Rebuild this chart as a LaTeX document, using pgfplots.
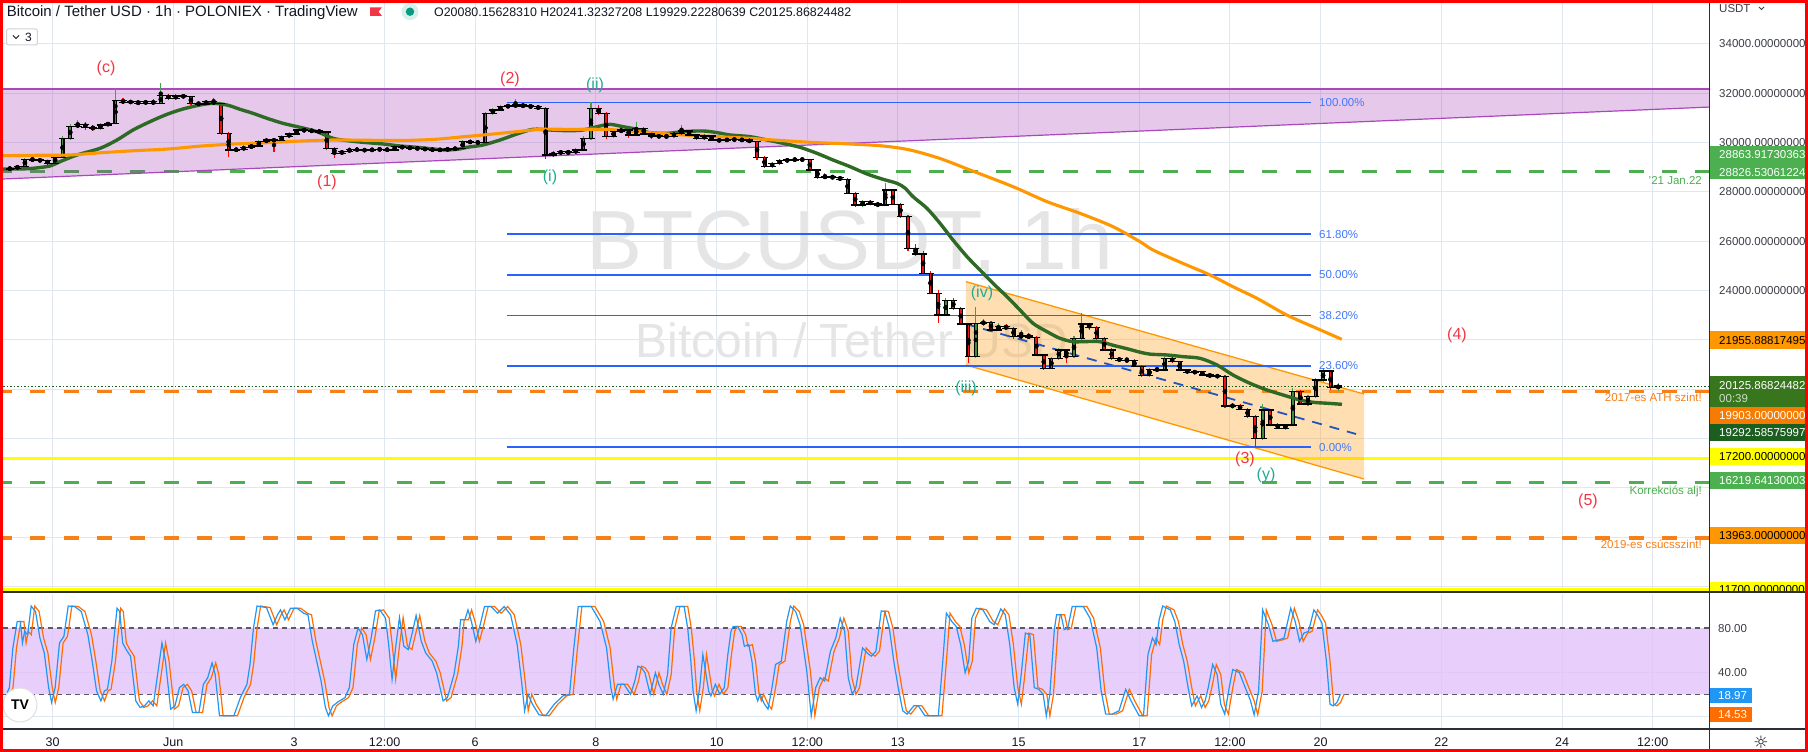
\documentclass[border=0pt]{standalone}
\usepackage{fontspec}
\setmainfont{Liberation Sans}
\newfontfamily\djv{DejaVu Sans}
\usepackage{pgfplots}
\usepackage{pgfplotstable}
\pgfplotsset{compat=1.18}

\definecolor{gridc}{RGB}{224,231,240}
\definecolor{bandfill}{RGB}{156,39,176}
\definecolor{bandline}{RGB}{171,71,188}
\definecolor{chanor}{RGB}{255,152,0}
\definecolor{fibblue}{RGB}{41,98,255}
\definecolor{fibtext}{RGB}{66,122,250}
\definecolor{midblue}{RGB}{33,84,190}
\definecolor{maG}{RGB}{46,105,38}
\definecolor{maO}{RGB}{255,152,0}
\definecolor{lvlgreen}{RGB}{76,175,80}
\definecolor{lvlorange}{RGB}{247,128,24}
\definecolor{ylw}{RGB}{255,255,0}
\definecolor{wred}{RGB}{242,54,69}
\definecolor{wteal}{RGB}{34,171,148}
\definecolor{curdot}{RGB}{27,94,32}
\definecolor{txt}{RGB}{19,23,34}
\definecolor{axtxt}{RGB}{60,62,72}
\definecolor{sepc}{RGB}{42,46,57}
\definecolor{upw}{RGB}{67,160,71}
\definecolor{dnw}{RGB}{255,0,0}
\definecolor{upb}{RGB}{56,142,60}
\definecolor{dnb}{RGB}{240,20,20}
\definecolor{kblue}{RGB}{33,150,243}
\definecolor{dorange}{RGB}{255,109,0}
\definecolor{oscband}{RGB}{225,192,250}
\definecolor{oscdash}{RGB}{90,90,100}
\definecolor{boxgreen}{RGB}{76,175,80}
\definecolor{boxdk}{RGB}{56,118,29}
\definecolor{boxdk2}{RGB}{27,94,32}
\definecolor{boxor}{RGB}{255,152,0}
\definecolor{boxor2}{RGB}{245,124,0}
\definecolor{tealring}{RGB}{214,240,235}
\definecolor{tealdot}{RGB}{8,153,129}

\newcommand{\fs}[1]{\fontsize{#1}{#1}\selectfont}

\pgfplotstableread{
t o h l c
-2.750 28900 28990 28860 28926
-2.625 28926 29010 28880 28953
-2.500 28953 29080 28920 29020
-2.375 29020 29380 28990 29317
-2.250 29317 29400 29230 29290
-2.125 29290 29350 29200 29263
-2.000 29263 29300 29100 29155
-1.875 29155 29480 29120 29398
-1.750 29398 30250 29360 30168
-1.625 30168 30750 30100 30641
-1.500 30641 30900 30580 30736
-1.375 30736 30850 30520 30614
-1.250 30614 30700 30450 30574
-1.125 30574 30780 30500 30709
-1.000 30709 30850 30650 30776
-0.875 30776 32195 30740 31695
-0.750 31695 31800 31550 31628
-0.625 31628 31720 31560 31655
-0.500 31655 31700 31500 31587
-0.375 31587 31720 31540 31655
-0.250 31655 31750 31500 31587
-0.125 31587 32400 31560 31900
0.000 31900 31980 31720 31790
0.125 31790 31950 31740 31884
0.250 31884 31950 31800 31857
0.375 31857 31900 31520 31587
0.500 31587 31650 31480 31560
0.625 31560 31720 31520 31655
0.750 31655 31800 31540 31587
0.875 31587 31620 30300 30371
1.000 30371 30420 29398 29696
1.125 29696 29800 29600 29723
1.250 29723 29880 29650 29804
1.375 29804 29950 29740 29858
1.500 29858 30100 29800 30033
1.625 30033 30180 29980 30101
1.750 30101 30160 29630 30080
1.875 30080 30300 30020 30236
2.000 30236 30420 30180 30344
2.125 30344 30560 30300 30506
2.250 30506 30600 30420 30479
2.375 30479 30540 30400 30466
2.500 30466 30520 30360 30425
2.625 30425 30470 29700 29763
2.750 29763 29800 29358 29560
2.875 29560 29700 29500 29628
3.000 29628 29800 29580 29723
3.125 29723 29780 29640 29696
3.250 29696 29760 29620 29680
3.375 29680 29780 29640 29710
3.500 29710 29790 29660 29723
3.625 29723 29770 29630 29696
3.750 29696 29900 29660 29831
3.875 29831 29880 29740 29790
4.000 29790 29840 29720 29770
4.125 29770 29820 29700 29750
4.250 29750 29800 29660 29723
4.375 29723 29760 29640 29696
4.500 29696 29760 29650 29700
4.625 29700 29790 29660 29736
4.750 29736 29820 29690 29750
4.875 29750 30100 29720 30033
5.000 30033 30090 29950 30010
5.125 30010 30060 29940 29993
5.250 29993 31250 29960 31182
5.375 31182 31400 31120 31317
5.500 31317 31500 31260 31452
5.625 31452 31560 31400 31479
5.750 31479 31750 31420 31519
5.875 31519 31580 31380 31479
6.000 31479 31540 31360 31452
6.125 31452 31500 31330 31384
6.250 31384 31420 29350 29493
6.375 29493 29640 29430 29560
6.500 29560 29700 29500 29628
6.625 29628 29680 29480 29587
6.750 29587 29760 29540 29696
6.875 29696 30250 29650 30168
7.000 30168 31650 30120 31384
7.125 31384 31500 31100 31182
7.250 31182 31250 30150 30236
7.375 30236 30520 30180 30439
7.500 30439 30600 30380 30506
7.625 30506 30560 30200 30304
7.750 30304 30844 30250 30574
7.875 30574 30620 30300 30344
8.000 30344 30400 30150 30263
8.125 30263 30320 30180 30236
8.250 30236 30320 30180 30250
8.375 30250 30430 30200 30371
8.500 30371 30709 30320 30466
8.625 30466 30520 30260 30304
8.750 30304 30350 30110 30168
8.875 30168 30330 30120 30263
9.000 30263 30300 30050 30101
9.125 30101 30160 30010 30074
9.250 30074 30200 30020 30128
9.375 30128 30180 30060 30110
9.500 30110 30160 30040 30101
9.625 30101 30140 29980 30033
9.750 30033 30080 29300 29398
9.875 29398 29450 28950 29020
10.000 29020 29200 28980 29155
10.125 29155 29330 29100 29263
10.250 29263 29350 29200 29290
10.375 29290 29380 29240 29317
10.500 29317 29360 29250 29300
10.625 29300 29340 28850 28885
10.750 28885 28920 28500 28588
10.875 28588 28750 28520 28615
11.000 28615 28660 28500 28588
11.125 28588 28640 28420 28507
11.250 28507 28550 27900 27939
11.375 27939 28000 27400 27466
11.500 27466 27680 27400 27602
11.625 27602 27650 27450 27507
11.750 27507 27560 27400 27466
11.875 27466 28345 27420 28074
12.000 28074 28120 27450 27500
12.125 27500 27560 26950 27000
12.250 27000 27050 25600 25700
12.375 25700 25900 25400 25479
12.500 25479 25600 24650 24696
12.625 24696 24800 23850 23885
12.750 23885 24000 22700 23007
12.875 23007 23700 22950 23588
13.000 23588 23700 23200 23277
13.125 23277 23350 22600 22642
13.250 22642 22700 21048 21318
13.375 21318 23345 21250 22669
13.500 22669 22850 22550 22700
13.625 22700 22780 22350 22399
13.750 22399 22700 22340 22534
13.875 22534 22650 22400 22467
14.000 22467 22520 22050 22129
14.125 22129 22400 22080 22150
14.250 22150 22280 22050 22100
14.375 22100 22150 21350 21386
14.500 21386 21420 20780 20846
14.625 20846 21300 20800 21251
14.750 21251 21650 21200 21588
14.875 21588 21620 21048 21318
15.000 21318 22150 21280 22061
15.125 22061 23075 22000 22642
15.250 22642 22700 22400 22507
15.375 22507 22560 22000 22061
15.500 22061 22100 21550 21588
15.625 21588 21650 21200 21251
15.750 21251 21300 21100 21156
15.875 21156 21300 21100 21170
16.000 21170 21220 20880 20913
16.125 20913 20960 20500 20560
16.250 20560 20850 20500 20805
16.375 20805 20900 20720 20778
16.500 20778 21300 20740 21251
16.625 21251 21300 21080 21116
16.750 21116 21160 20740 20778
16.875 20778 20820 20620 20670
17.000 20670 20760 20630 20710
17.125 20710 20750 20540 20575
17.250 20575 20620 20500 20535
17.375 20535 20580 20480 20520
17.500 20520 20560 19250 19319
17.625 19319 19450 19200 19340
17.750 19340 19400 19150 19184
17.875 19184 19230 18850 18887
18.000 18887 18950 17650 18009
18.125 18009 19400 17950 19157
18.250 19157 19200 18500 18549
18.375 18549 18620 18380 18414
18.500 18414 18600 18350 18549
18.625 18549 20050 18500 19900
18.750 19900 19950 19350 19400
18.875 19400 19750 19300 19697
19.000 19697 20450 19650 20373
19.125 20373 20845 20300 20737
19.250 20737 20780 19950 20076
19.375 20076 20241 19929 20125.87
}\candles

\pgfplotstableread{
t p
-2.787 28926
-2.456 28926
-2.241 28953
-1.959 29047
-1.794 29223
-1.512 29493
-1.131 29763
-0.850 30101
-0.585 30506
-0.303 30844
-0.022 31141
0.243 31357
0.525 31519
0.740 31587
0.972 31519
1.188 31344
1.403 31182
1.635 30979
1.900 30776
2.181 30614
2.463 30439
2.728 30168
3.009 30060
3.291 29993
3.556 29939
3.837 29858
4.119 29804
4.384 29736
4.615 29696
4.831 29740
4.947 29804
5.212 29898
5.494 30101
5.775 30344
6.040 30533
6.322 30506
6.604 30479
6.869 30506
7.150 30668
7.316 30736
7.531 30640
7.763 30533
7.978 30398
8.260 30370
8.525 30439
8.856 30466
9.088 30400
9.303 30304
9.634 30236
9.916 30101
10.181 29966
10.462 29804
10.744 29560
11.009 29290
11.291 29020
11.572 28723
11.837 28507
12.069 28345
12.201 28150
12.334 27803
12.565 27330
12.781 26722
12.996 26047
13.228 25371
13.443 24831
13.658 24291
13.890 23750
14.105 23210
14.321 22669
14.553 22332
14.768 22061
14.983 21926
15.215 21930
15.431 21926
15.646 21780
15.878 21640
16.093 21500
16.259 21420
16.540 21386
16.805 21318
17.087 21251
17.368 20981
17.633 20575
17.915 20238
18.196 19967
18.462 19765
18.743 19562
18.958 19468
19.190 19430
19.438 19387
}\maGreen

\pgfplotstableread{
t p
-2.754 29466
-2.208 29480
-1.645 29493
-1.098 29587
-0.551 29668
0.000 29736
0.558 29858
1.105 29939
1.651 29993
2.215 30060
2.761 30101
3.308 30090
3.871 30080
4.418 30128
4.831 30220
5.212 30304
5.775 30439
6.156 30533
6.604 30533
7.150 30533
7.432 30506
7.978 30398
8.525 30304
9.088 30236
9.634 30168
10.181 30074
10.744 29993
11.291 29939
11.837 29858
12.284 29696
12.781 29350
13.278 28884
13.990 28209
14.553 27601
15.099 27128
15.646 26587
16.093 25979
16.308 25642
16.755 25150
17.254 24628
17.635 24150
18.030 23683
18.523 23007
19.019 22467
19.434 22022
}\maOrange

\pgfplotstableread{
t k
-2.751 21.5
-2.715 26
-2.657 62
-2.585 86
-2.534 86
-2.498 66.5
-2.462 77
-2.412 74
-2.354 100
-2.282 95
-2.209 71
-2.137 57.5
-2.065 26
-2.015 12.5
-1.957 26
-1.885 66.5
-1.812 72.5
-1.740 100
-1.632 99.5
-1.524 95
-1.415 74
-1.343 50
-1.271 23
-1.199 14
-1.141 23
-1.091 24.5
-1.018 50
-0.982 71
-0.932 98
-0.888 95
-0.838 66.5
-0.780 60.5
-0.708 54.5
-0.621 14
-0.549 8
-0.477 9.5
-0.405 14
-0.333 9.5
-0.260 38
-0.188 66.5
-0.130 50
-0.044 6.5
0.028 9.5
0.101 26
0.173 29
0.245 23
0.317 3.5
0.425 3.5
0.498 29
0.570 35
0.642 48.5
0.693 38
0.765 0.5
1.003 0.5
1.111 17
1.219 29
1.270 47
1.328 80
1.386 100
1.544 98.6
1.653 83
1.725 92
1.775 96.5
1.848 87.5
1.941 98
2.050 98
2.158 93.5
2.230 92
2.302 68
2.375 50
2.447 32
2.519 8
2.570 0.5
2.642 9.5
2.736 13.4
2.844 17
2.916 26
2.988 65
3.060 80
3.133 74
3.205 51.5
3.277 71
3.349 95.6
3.421 96.5
3.515 89
3.566 65
3.623 33.5
3.688 65
3.746 89.6
3.818 63.5
3.891 60.5
3.963 77
4.021 91.4
4.107 68
4.179 57.5
4.288 50
4.360 39.5
4.468 14
4.540 17
4.649 38
4.721 63.5
4.757 87.5
4.829 87.5
4.880 96.5
4.937 86
5.010 68
5.082 83
5.154 99.5
5.262 99.5
5.370 93.5
5.479 99.5
5.587 92
5.695 65
5.767 32
5.818 5
5.876 20
5.948 11
6.056 1.4
6.165 0.5
6.309 11
6.453 18.5
6.562 20
6.634 62
6.706 99.5
6.923 99.5
7.067 86
7.175 62
7.247 26
7.284 15.5
7.356 29
7.464 29
7.572 20
7.644 32
7.695 45.5
7.753 44
7.811 39.5
7.897 20
7.984 39.5
8.042 29
8.114 20
8.186 38
8.244 80
8.330 99.5
8.460 99.5
8.519 80
8.571 50
8.608 23
8.659 5
8.718 26
8.770 56
8.814 41
8.866 23
8.903 18.5
8.977 29
9.051 20
9.125 26
9.184 56
9.236 77
9.272 81.5
9.346 81.5
9.420 74
9.457 63.5
9.531 65
9.583 50
9.642 20
9.679 14
9.716 20
9.790 11
9.849 6.5
9.915 26
9.974 47
10.070 50
10.159 86
10.218 100
10.307 95
10.380 83
10.491 41
10.565 0.5
10.639 26
10.713 35
10.787 32
10.883 59
10.971 71
11.045 89
11.119 77
11.178 35
11.245 20
11.304 26
11.415 62
11.489 57.5
11.562 54.5
11.636 59
11.725 95.6
11.784 95
11.858 80
11.932 50
12.006 26
12.080 5
12.153 2
12.264 9.5
12.338 9.5
12.449 0.5
12.670 0.5
12.744 50
12.803 93.5
12.892 86
12.966 81.5
13.040 65
13.114 39.5
13.173 50
13.225 89
13.298 98
13.409 96.5
13.520 86
13.594 83
13.705 97.4
13.779 92
13.853 65
13.926 26
13.985 11
14.037 35
14.111 75.5
14.185 74
14.259 26
14.333 24.5
14.406 20
14.458 0.5
14.517 20
14.591 78.5
14.628 92
14.702 92
14.754 78.5
14.813 80
14.887 99.5
15.071 99.5
15.182 89
15.293 62
15.367 23
15.441 2
15.552 2
15.662 5
15.773 24.5
15.862 14
15.995 0.5
16.068 0.5
16.142 56
16.216 71
16.275 65
16.327 87.5
16.386 100
16.512 96.5
16.586 86
16.659 65
16.733 50
16.807 26
16.866 9.5
16.955 18.5
17.029 8
17.088 14
17.140 26
17.213 47
17.287 38
17.347 11
17.413 2
17.487 26
17.546 42.5
17.657 39.5
17.731 29
17.841 14
17.900 1.4
17.974 23
18.041 96.5
18.137 83
18.211 68
18.322 69.5
18.395 71
18.506 98
18.580 86
18.652 68
18.726 75.5
18.800 77
18.890 96.5
18.949 92
19.023 84.5
19.097 50
19.157 11
19.209 9.5
19.271 12.5
19.329 20
}\stoch

\begin{document}
\begin{tikzpicture}[x=1pt,y=1pt]
\fill[white] (0,0) rectangle (1808,752);
% watermark
\node[anchor=base, text=black!10, font=\fs{84}, inner sep=0pt] at (850,482) {BTCUSDT, 1h};
\node[anchor=base, text=black!10, font=\fs{48}, inner sep=0pt] at (852,394) {Bitcoin / Tether USD};

\begin{axis}[
  at={(3pt,160pt)}, anchor=south west, scale only axis,
  width=1706pt, height=589pt,
  xmin=-2.738, xmax=25.517, ymin=11779, ymax=35654,
  scaled x ticks=false, scaled y ticks=false,
  axis line style={draw=none}, major tick length=0pt,
  xtick={-1.9172,0.0828,2.0828,3.5828,5.0828,7.0828,9.0828,10.5828,12.0828,14.0828,16.0828,17.5828,19.0828,21.0828,23.0828,24.5828},
  xticklabels={},
  ytick={12000,14000,...,34000},
  yticklabels={12000.00000000,,,,,,24000.00000000,26000.00000000,28000.00000000,30000.00000000,32000.00000000,34000.00000000},
  yticklabel pos=right,
  yticklabel style={anchor=west, inner sep=0pt, xshift=10pt, font=\fs{11.5}, text=axtxt},
  xmajorgrids, ymajorgrids, major grid style={draw=gridc, line width=1pt},
]
% horizontal levels
\addplot[lvlgreen, line width=3.3pt, dash pattern=on 15pt off 18.3pt, dash phase=6pt] coordinates {(-2.738,28826.53) (25.517,28826.53)};
\addplot[lvlorange, line width=3.3pt, dash pattern=on 15pt off 18.3pt, dash phase=6pt] coordinates {(-2.738,19903) (25.517,19903)};
\addplot[lvlgreen, line width=3.3pt, dash pattern=on 15pt off 18.3pt, dash phase=6pt] coordinates {(-2.738,16219.64) (25.517,16219.64)};
\addplot[lvlorange, line width=3.3pt, dash pattern=on 15pt off 18.3pt, dash phase=6pt] coordinates {(-2.738,13963) (25.517,13963)};
\addplot[ylw, line width=3pt] coordinates {(-2.738,17200) (25.517,17200)};
% wedge band
\addplot[draw=none, fill=bandfill, fill opacity=0.25] coordinates {(-2.738,32168) (25.517,32168) (25.517,31435) (-2.738,28520) (-2.738,32168)};
\addplot[bandline, line width=1.2pt] coordinates {(-2.738,32168) (25.517,32168)};
\addplot[bandline, line width=1.2pt] coordinates {(-2.738,28520) (25.517,31435)};
% descending channel
\addplot[draw=none, fill=chanor, fill opacity=0.3] coordinates {(13.211,24357) (19.803,19805) (19.803,16359) (13.211,20980) (13.211,24357)};
\addplot[chanor, line width=1.3pt] coordinates {(13.211,24357) (19.803,19805)};
\addplot[chanor, line width=1.3pt] coordinates {(13.211,20980) (19.803,16359)};
\addplot[midblue, line width=1.8pt, dash pattern=on 10pt off 8pt] coordinates {(13.206,22642) (19.671,18183)};
% fibonacci
\addplot[fibblue, line width=1.7pt] coordinates {(5.614,31617) (18.920,31617)};
\addplot[fibblue, line width=1.7pt] coordinates {(5.614,26280) (18.920,26280)};
\addplot[fibblue, line width=1.7pt] coordinates {(5.614,24631) (18.920,24631)};
\addplot[fibblue, line width=1.7pt] coordinates {(5.614,22982) (18.920,22982)};
\addplot[fibblue, line width=1.7pt] coordinates {(5.614,20942) (18.920,20942)};
\addplot[fibblue, line width=1.7pt] coordinates {(5.614,17645) (18.920,17645)};
% candles: wicks
\addplot[only marks, mark=none, restrict expr to domain={\thisrow{c}-\thisrow{o}}{0:1000000},
  error bars/.cd, y dir=both, y explicit, error mark=none, error bar style={draw=upw, line width=1.1pt}]
  table[x=t, y expr={0.5*(\thisrow{h}+\thisrow{l})}, y error expr={0.5*(\thisrow{h}-\thisrow{l})}] {\candles};
\addplot[only marks, mark=none, restrict expr to domain={\thisrow{c}-\thisrow{o}}{-1000000:-0.001},
  error bars/.cd, y dir=both, y explicit, error mark=none, error bar style={draw=dnw, line width=1.1pt}]
  table[x=t, y expr={0.5*(\thisrow{h}+\thisrow{l})}, y error expr={0.5*(\thisrow{h}-\thisrow{l})}] {\candles};
% bodies
\addplot[only marks, mark=none,
  error bars/.cd, y dir=both, y explicit, error mark=none, error bar style={draw=black, line width=4pt}]
  table[x=t, y expr={0.5*(\thisrow{o}+\thisrow{c})}, y error expr={0.5*abs(\thisrow{c}-\thisrow{o})}] {\candles};
\addplot[only marks, mark=none, restrict expr to domain={\thisrow{c}-\thisrow{o}}{0:1000000},
  error bars/.cd, y dir=both, y explicit, error mark=none, error bar style={draw=upb, line width=1.6pt}]
  table[x=t, y expr={0.5*(\thisrow{o}+\thisrow{c})}, y error expr={0.5*abs(\thisrow{c}-\thisrow{o})}] {\candles};
\addplot[only marks, mark=none, restrict expr to domain={\thisrow{c}-\thisrow{o}}{-1000000:-0.001},
  error bars/.cd, y dir=both, y explicit, error mark=none, error bar style={draw=dnb, line width=1.6pt}]
  table[x=t, y expr={0.5*(\thisrow{o}+\thisrow{c})}, y error expr={0.5*abs(\thisrow{c}-\thisrow{o})}] {\candles};
% open / close ticks
\addplot[only marks, mark=-, mark size=3.8pt, mark options={draw=black, line width=1.3pt}] table[x=t, y=o] {\candles};
\addplot[only marks, mark=-, mark size=3.8pt, mark options={draw=black, line width=1.3pt}] table[x=t, y=c] {\candles};
% moving averages
\addplot[maG, line width=3.4pt, smooth] table[x=t, y=p] {\maGreen};
\addplot[maO, line width=3.1pt, smooth] table[x=t, y=p] {\maOrange};
% current price
\addplot[curdot, line width=1pt, dash pattern=on 1.5pt off 2pt] coordinates {(-2.738,20125.87) (25.517,20125.87)};
\end{axis}

\begin{axis}[
  at={(3pt,23pt)}, anchor=south west, scale only axis,
  width=1706pt, height=135pt,
  xmin=-2.8205, xmax=25.434, ymin=-11.5, ymax=110.9,
  scaled x ticks=false, scaled y ticks=false,
  axis line style={draw=none}, major tick length=0pt,
  xtick={-2,0,2,3.5,5,7,9,10.5,12,14,16,17.5,19,21,23,24.5},
  xticklabels={30,Jun,3,12:00,6,8,10,12:00,13,15,17,12:00,20,22,24,12:00},
  xticklabel style={anchor=center, yshift=-13.5pt, font=\fs{12.5}, text=txt},
  ytick={0,40,80}, yticklabels={,40.00,80.00},
  yticklabel pos=right,
  yticklabel style={anchor=west, inner sep=0pt, xshift=9pt, font=\fs{11.5}, text=axtxt},
  xmajorgrids, ymajorgrids, major grid style={draw=gridc, line width=1pt},
]
\addplot[draw=none, fill=oscband, fill opacity=0.75] coordinates {(-2.8205,20) (25.434,20) (25.434,80) (-2.8205,80) (-2.8205,20)};
\addplot[oscdash, line width=1.2pt, dash pattern=on 5pt off 4pt] coordinates {(-2.8205,80) (25.434,80)};
\addplot[oscdash, line width=1.2pt, dash pattern=on 5pt off 4pt] coordinates {(-2.8205,20) (25.434,20)};
\addplot[dorange, line width=1.2pt] table[x expr={\thisrow{t}+0.06}, y=k] {\stoch};
\addplot[kblue, line width=1.2pt] table[x=t, y=k] {\stoch};
\end{axis}

% 11700 line and separators
\draw[ylw, line width=3pt] (3,162.5) -- (1709,162.5);
\draw[sepc, line width=1.3pt] (0,160) -- (1808,160);
\draw[sepc, line width=1.3pt] (0,23) -- (1808,23);
\draw[sepc, line width=1pt] (1709,0) -- (1709,752);

% fib labels
\begin{scope}[every node/.style={anchor=west, inner sep=0pt, font=\fs{11.5}, text=fibtext}]
\node at (1319,649.4) {100.00\%};
\node at (1319,517.8) {61.80\%};
\node at (1319,477) {50.00\%};
\node at (1319,436.4) {38.20\%};
\node at (1319,386) {23.60\%};
\node at (1319,304.7) {0.00\%};
\end{scope}

% level labels
\begin{scope}[every node/.style={anchor=base east, inner sep=0pt, font=\fs{11.5}}]
\node[text=lvlgreen] at (1702,567.9) {'21 Jan.22};
\node[text=lvlorange] at (1702,350.2) {2017-es ATH szint!};
\node[text=lvlgreen] at (1702,257.9) {Korrekciós alj!};
\node[text=lvlorange] at (1702,203.6) {2019-es csúcsszint!};
\end{scope}

% wave labels
\begin{scope}[every node/.style={anchor=center, inner sep=0pt, font=\fs{16}}]
\node[text=wred] at (106,684) {(c)};
\node[text=wred] at (327,570) {(1)};
\node[text=wred] at (510,673) {(2)};
\node[text=wteal] at (595,667) {(ii)};
\node[text=wteal] at (550,575) {(i)};
\node[text=wteal] at (982,459) {(iv)};
\node[text=wteal] at (966,364) {(iii)};
\node[text=wred] at (1245,293) {(3)};
\node[text=wteal] at (1266,277) {(y)};
\node[text=wred] at (1457,416.5) {(4)};
\node[text=wred] at (1588,250.3) {(5)};
\end{scope}

% right price boxes
\begin{scope}[every node/.style={anchor=base west, inner sep=0pt, font=\fs{11.5}}]
\fill[boxgreen] (1709.5,573) rectangle (1805,606);
\node[text=white] at (1719,593.9) {28863.91730363};
\node[text=white] at (1719,575.9) {28826.53061224};
\fill[boxor] (1709.5,403) rectangle (1805,421);
\node[text=black] at (1719,407.9) {21955.88817495};
\fill[boxdk] (1709.5,345) rectangle (1805,376);
\node[text=white] at (1719,362.9) {20125.86824482};
\node[text=white!75!boxdk] at (1719,349.9) {00:39};
\fill[boxor2] (1709.5,328) rectangle (1805,345);
\node[text=white] at (1719,332.2) {19903.00000000};
\fill[boxdk2] (1709.5,311) rectangle (1805,328);
\node[text=white] at (1719,315.9) {19292.58575997};
\fill[ylw] (1709.5,287) rectangle (1805,304);
\node[text=black] at (1719,291.9) {17200.00000000};
\fill[boxgreen] (1709.5,263) rectangle (1805,280);
\node[text=white] at (1719,267.9) {16219.64130003};
\fill[boxor] (1709.5,208) rectangle (1805,225);
\node[text=black] at (1719,212.6) {13963.00000000};
\begin{scope}
\clip (1709.5,161) rectangle (1805,170);
\fill[ylw] (1709.5,161) rectangle (1805,170);
\node[text=black] at (1719,158.9) {11700.00000000};
\end{scope}
\fill[kblue] (1709.5,49) rectangle (1752,64);
\node[text=white] at (1718,52.4) {18.97};
\fill[dorange] (1709.5,30) rectangle (1752,45);
\node[text=white] at (1718,33.4) {14.53};
\end{scope}

% header
\node[anchor=base west, inner sep=0pt, font=\fs{15}, text=txt] at (6.6,735) {Bitcoin / Tether USD · 1h · POLONIEX · TradingView};
\fill[wred] (370,744.7) -- (382,744.7) -- (378.5,740.3) -- (382,736) -- (370,736) -- cycle;
\fill[tealring] (410,740.3) circle (8.5);
\fill[tealdot] (410,740.3) circle (4.2);
\node[anchor=base west, inner sep=0pt, font=\fs{12.4}, text=txt] at (434,735) {O20080.15628310 H20241.32327208 L19929.22280639 C20125.86824482};
\filldraw[fill=white, draw=black!18, line width=1pt, rounded corners=2pt] (6.6,707) rectangle (37.4,723);
\draw[txt, line width=1pt] (13,716.5) -- (16,713.5) -- (19,716.5);
\node[anchor=center, inner sep=0pt, font=\fs{12}, text=txt] at (28.5,715) {3};
\node[anchor=west, inner sep=0pt, font=\fs{11.5}, text=axtxt] at (1719,743.2) {USDT};
\draw[axtxt, line width=0.8pt] (1759,745) -- (1761.5,742.5) -- (1764,745);

% logo and gear
\filldraw[fill=white, draw=black!12, line width=1pt] (20,47) circle (17);
\node[anchor=center, inner sep=0pt, font=\bfseries\fs{14}, text=black] at (20,47) {TV};
\node[anchor=center, inner sep=0pt, font=\djv\fs{17}, text=txt] at (1761,9.5) {☼};

% red frame
\draw[red, line width=3pt] (1.5,1.5) rectangle (1806.5,750.5);
\pgfresetboundingbox
\path (0,0) rectangle (1808,752);
\end{tikzpicture}
\end{document}
